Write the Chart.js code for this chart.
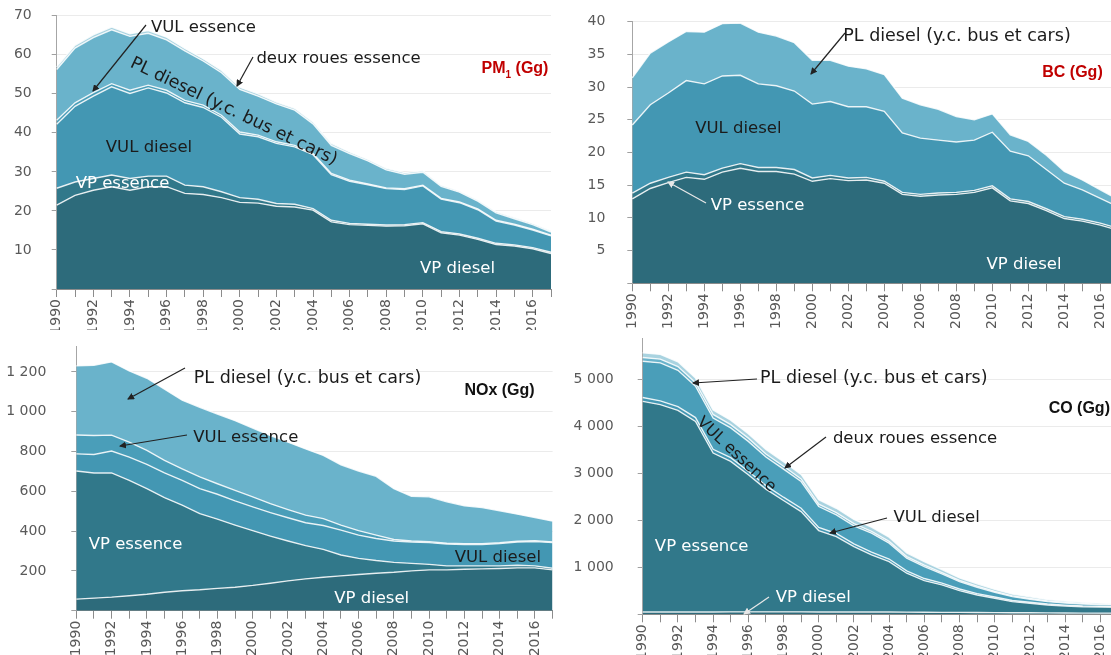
<!DOCTYPE html>
<html lang="fr">
<head>
<meta charset="utf-8">
<title>Émissions du transport routier</title>
<script src="https://cdn.jsdelivr.net/npm/chart.js@4.4.1/dist/chart.umd.min.js"></script>
<style>
    html, body { margin: 0; padding: 0; background: #fff; }
    body { position: relative; width: 1111px; height: 655px; overflow: hidden; font-family: 'DejaVu Sans', sans-serif; }
    canvas { position: absolute; }
    .lbl { position: absolute; white-space: nowrap; transform: translate(-50%, -50%); font-size: 16.5px; line-height: 1; color: #1b1b1b; }
    .pl { font-size: 17.5px; }
    .w { color: #fff; }
    .ttl { font-family: 'Liberation Sans', sans-serif; font-weight: bold; font-size: 16px; color: #111; }
    .red { color: #c00000; }
    svg { position: absolute; left: 0; top: 0; }
</style>
</head>
<body>
<canvas id="pm1" width="575" height="330" style="left:0;top:0"></canvas>
<canvas id="bc" width="570" height="330" style="left:560px;top:0"></canvas>
<canvas id="nox" width="575" height="325" style="left:0;top:330px"></canvas>
<canvas id="co" width="570" height="325" style="left:560px;top:330px"></canvas>
<svg width="1111" height="655">
    <defs>
        <marker id="ah" markerWidth="7" markerHeight="7" refX="6" refY="3.5" orient="auto" markerUnits="userSpaceOnUse">
            <path d="M0,0 L7,3.5 L0,7 z" fill="#222"/>
        </marker>
        <marker id="ahw" markerWidth="7" markerHeight="7" refX="6" refY="3.5" orient="auto" markerUnits="userSpaceOnUse">
            <path d="M0,0 L7,3.5 L0,7 z" fill="#e8e8e8"/>
        </marker>
    </defs>
    <g id="arrows"></g>
</svg>
<div id="labels"></div>

<script>
    'use strict';

    const years = ['1990', '1991', '1992', '1993', '1994', '1995', '1996', '1997', '1998', '1999',
        '2000', '2001', '2002', '2003', '2004', '2005', '2006', '2007', '2008', '2009',
        '2010', '2011', '2012', '2013', '2014', '2015', '2016', '2017'];

    // --- PM1 (Gg) ---
    const pm1Ticks = [0, 10, 20, 30, 40, 50, 60, 70];
    const pm1VpDiesel = [21.5, 24.0, 25.3, 26.2, 25.3, 26.2, 26.2, 24.5, 24.2, 23.4, 22.2, 22.0, 21.2, 21.0, 20.2, 17.2, 16.5, 16.3, 16.1, 16.2, 16.7, 14.4, 13.8, 12.7, 11.4, 11.0, 10.3, 9.1];
    const pm1VpEssence = [4.3, 3.4, 3.0, 3.0, 3.0, 2.7, 2.7, 2.1, 2.0, 1.5, 1.2, 1.0, 0.7, 0.7, 0.4, 0.4, 0.3, 0.3, 0.3, 0.3, 0.3, 0.3, 0.3, 0.3, 0.3, 0.3, 0.3, 0.3];
    const pm1VulDiesel = [16.4, 19.4, 21.1, 22.6, 21.8, 22.6, 21.3, 21.1, 20.3, 19.1, 16.3, 16.0, 15.4, 14.7, 13.8, 11.7, 10.8, 10.1, 9.3, 9.0, 9.4, 8.3, 8.0, 7.3, 5.7, 5.1, 4.5, 4.2];
    const pm1VulEssence = [1.0, 0.9, 0.9, 0.8, 0.8, 0.7, 0.7, 0.6, 0.6, 0.5, 0.5, 0.4, 0.4, 0.4, 0.3, 0.3, 0.3, 0.2, 0.2, 0.2, 0.2, 0.2, 0.2, 0.2, 0.2, 0.2, 0.2, 0.2];
    const pm1PlDiesel = [13.0, 14.0, 14.1, 13.8, 13.8, 13.3, 12.9, 12.7, 11.3, 10.9, 10.9, 10.0, 9.7, 9.0, 7.6, 7.2, 6.8, 5.9, 4.6, 3.7, 3.3, 3.1, 2.5, 2.0, 1.9, 1.4, 1.2, 0.8];
    const pm1DeuxRoues = [0.7, 0.7, 0.7, 0.7, 0.7, 0.7, 0.7, 0.6, 0.6, 0.6, 0.6, 0.6, 0.5, 0.5, 0.5, 0.5, 0.4, 0.4, 0.4, 0.4, 0.4, 0.3, 0.3, 0.3, 0.3, 0.3, 0.3, 0.3];

    // --- BC (Gg) ---
    const bcTicks = [0, 5, 10, 15, 20, 25, 30, 35, 40];
    const bcVpDiesel = [12.9, 14.5, 15.4, 16.2, 15.9, 17.0, 17.6, 17.1, 17.1, 16.7, 15.6, 16.0, 15.7, 15.8, 15.3, 13.6, 13.3, 13.5, 13.6, 13.9, 14.6, 12.6, 12.2, 11.1, 9.9, 9.5, 8.9, 8.1];
    const bcVpEssence = [0.9, 0.8, 0.8, 0.8, 0.7, 0.6, 0.7, 0.6, 0.6, 0.7, 0.5, 0.5, 0.4, 0.4, 0.3, 0.3, 0.3, 0.3, 0.3, 0.3, 0.3, 0.3, 0.3, 0.3, 0.3, 0.3, 0.3, 0.3];
    const bcVulDiesel = [10.4, 12.0, 12.9, 14.0, 13.9, 14.1, 13.5, 12.8, 12.5, 12.0, 11.3, 11.3, 10.9, 10.8, 10.7, 9.1, 8.6, 8.1, 7.7, 7.7, 8.2, 7.3, 7.0, 6.0, 5.1, 4.5, 3.8, 3.3];
    const bcPlDiesel = [7.2, 7.9, 7.8, 7.5, 7.9, 8.0, 8.0, 7.9, 7.6, 7.4, 6.7, 6.3, 6.2, 5.8, 5.6, 5.3, 5.1, 4.7, 3.9, 3.1, 2.8, 2.5, 2.2, 2.2, 1.8, 1.5, 1.3, 1.1];

    // --- NOx (Gg) ---
    const noxTicks = [0, 200, 400, 600, 800, 1000, 1200];
    const noxVpDiesel = [58, 63, 68, 75, 83, 93, 100, 105, 112, 118, 127, 138, 150, 160, 168, 175, 182, 188, 193, 200, 205, 205, 208, 210, 212, 215, 215, 205];
    const noxVpEssence = [644, 629, 624, 580, 530, 475, 430, 383, 348, 312, 275, 237, 200, 167, 140, 105, 81, 64, 50, 38, 28, 20, 17, 15, 13, 13, 10, 8];
    const noxVulDiesel = [86, 93, 110, 117, 122, 124, 125, 125, 125, 122, 120, 118, 117, 115, 120, 125, 117, 111, 107, 107, 109, 110, 108, 108, 113, 117, 123, 129];
    const noxVulEssence = [95, 95, 80, 75, 70, 63, 58, 59, 53, 53, 50, 45, 41, 38, 35, 25, 22, 17, 8, 5, 5, 4, 4, 4, 4, 4, 4, 4];
    const noxPlDiesel = [347, 353, 368, 358, 363, 358, 345, 350, 350, 350, 346, 342, 339, 333, 317, 303, 300, 295, 255, 225, 225, 208, 190, 181, 160, 136, 116, 104];

    // --- CO (Gg) ---
    const coTicks = [0, 1000, 2000, 3000, 4000, 5000];
    const coVpDiesel = [50, 50, 50, 50, 50, 52, 52, 52, 52, 52, 50, 50, 50, 48, 48, 46, 44, 42, 40, 38, 36, 34, 32, 30, 28, 26, 25, 24];
    const coVpEssence = [4483, 4412, 4291, 4056, 3382, 3201, 2918, 2613, 2370, 2135, 1732, 1605, 1391, 1216, 1074, 828, 672, 583, 463, 373, 305, 235, 203, 168, 149, 136, 131, 126];
    const coVulDiesel = [80, 80, 80, 80, 80, 80, 75, 75, 70, 70, 65, 65, 60, 60, 55, 50, 45, 40, 35, 30, 28, 25, 22, 20, 18, 16, 15, 14];
    const coVulEssence = [773, 809, 773, 667, 666, 633, 635, 607, 599, 570, 447, 397, 382, 403, 337, 270, 254, 194, 157, 135, 100, 81, 63, 51, 46, 42, 34, 31];
    const coPlDiesel = [80, 80, 80, 75, 75, 70, 70, 65, 60, 55, 50, 45, 45, 40, 38, 35, 30, 28, 25, 22, 20, 18, 16, 15, 14, 13, 12, 12];
    const coDeuxRoues = [100, 100, 100, 100, 95, 95, 95, 95, 95, 95, 95, 95, 90, 90, 90, 80, 75, 65, 55, 50, 45, 40, 35, 30, 28, 25, 20, 18];

    const COLORS = {
        vpDiesel: '#2d6b7b',
        vpEssence: '#31788a',
        vulDiesel: '#4397b3',
        vulEssence: '#4a9eb9',
        plDiesel: '#6ab3cb',
        deuxRoues: '#a9d3e0'
    };

    const tickFont = { family: "'DejaVu Sans', sans-serif", size: 14 };

    function fmtNumber(v) {
        if (v === 0) return '';
        return String(v).replace(/\B(?=(\d{3})+(?!\d))/g, ' ');
    }

    function stackedArea(canvasId, series, geo) {
        const ctx = document.getElementById(canvasId);
        return new Chart(ctx, {
            type: 'line',
            data: {
                labels: years,
                datasets: series.map((s, i) => ({
                    label: s.name,
                    data: s.values,
                    backgroundColor: COLORS[s.key],
                    borderColor: 'rgba(255,255,255,0.85)',
                    borderWidth: 1.4,
                    fill: i === 0 ? 'origin' : '-1',
                    pointRadius: 0,
                    tension: 0
                }))
            },
            options: {
                responsive: false,
                animation: false,
                events: [],
                layout: { padding: { top: geo.top, right: geo.right, left: 0, bottom: 0 } },
                plugins: { legend: { display: false }, tooltip: { enabled: false } },
                scales: {
                    x: {
                        offset: false,
                        grid: { drawOnChartArea: false, tickLength: 8, tickColor: '#8c8c8c' },
                        border: { color: '#8c8c8c' },
                        ticks: {
                            autoSkip: false, minRotation: 90, maxRotation: 90, padding: 2,
                            color: '#595959', font: tickFont,
                            callback: (v, i) => (i % 2 === 0 ? years[i] : '')
                        },
                        afterFit: scale => {
                            scale.height = geo.xh;
                            scale.paddingLeft = 0;
                            scale.paddingRight = 0;
                        }
                    },
                    y: {
                        stacked: true,
                        min: 0,
                        max: geo.max,
                        grid: { color: '#ebebeb', tickColor: '#a0a0a0', tickLength: 5 },
                        border: { color: '#a6a6a6' },
                        ticks: { padding: geo.pad, color: '#595959', font: tickFont, callback: fmtNumber },
                        afterBuildTicks: scale => { scale.ticks = geo.ticks.map(v => ({ value: v })); },
                        afterFit: scale => {
                            scale.width = geo.yw;
                            scale.paddingTop = 0;
                            scale.paddingBottom = 0;
                        }
                    }
                }
            }
        });
    }

    stackedArea('pm1', [
        { name: 'VP diesel', key: 'vpDiesel', values: pm1VpDiesel },
        { name: 'VP essence', key: 'vpEssence', values: pm1VpEssence },
        { name: 'VUL diesel', key: 'vulDiesel', values: pm1VulDiesel },
        { name: 'VUL essence', key: 'vulEssence', values: pm1VulEssence },
        { name: 'PL diesel (y.c. bus et cars)', key: 'plDiesel', values: pm1PlDiesel },
        { name: 'deux roues essence', key: 'deuxRoues', values: pm1DeuxRoues }
    ], { yw: 56.7, xh: 41, top: 15.7, right: 24, max: 70, ticks: pm1Ticks, pad: 20 });

    stackedArea('bc', [
        { name: 'VP diesel', key: 'vpDiesel', values: bcVpDiesel },
        { name: 'VP essence', key: 'vpEssence', values: bcVpEssence },
        { name: 'VUL diesel', key: 'vulDiesel', values: bcVulDiesel },
        { name: 'PL diesel (y.c. bus et cars)', key: 'plDiesel', values: bcPlDiesel }
    ], { yw: 72.3, xh: 46.7, top: 21.7, right: 11.7, max: 40, ticks: bcTicks, pad: 22 });

    stackedArea('nox', [
        { name: 'VP diesel', key: 'vpDiesel', values: noxVpDiesel },
        { name: 'VP essence', key: 'vpEssence', values: noxVpEssence },
        { name: 'VUL diesel', key: 'vulDiesel', values: noxVulDiesel },
        { name: 'VUL essence', key: 'vulEssence', values: noxVulEssence },
        { name: 'PL diesel (y.c. bus et cars)', key: 'plDiesel', values: noxPlDiesel }
    ], { yw: 76.3, xh: 44.3, top: 16, right: 22.4, max: 1330, ticks: noxTicks, pad: 25 });

    stackedArea('co', [
        { name: 'VP diesel', key: 'vpDiesel', values: coVpDiesel },
        { name: 'VP essence', key: 'vpEssence', values: coVpEssence },
        { name: 'VUL diesel', key: 'vulDiesel', values: coVulDiesel },
        { name: 'VUL essence', key: 'vulEssence', values: coVulEssence },
        { name: 'PL diesel (y.c. bus et cars)', key: 'plDiesel', values: coPlDiesel },
        { name: 'deux roues essence', key: 'deuxRoues', values: coDeuxRoues }
    ], { yw: 82.7, xh: 40.7, top: 8.5, right: 12.1, max: 5870, ticks: coTicks, pad: 24 });

    // annotation texts (page pixels, centre of the text)
    const notes = [
        { t: 'VUL essence', x: 203.5, y: 26.7 },
        { t: 'deux roues essence', x: 338.5, y: 58.3 },
        { t: 'PL diesel (y.c. bus et cars)', x: 234, y: 111, rot: 25.7, cls: 'pl' },
        { t: 'VUL diesel', x: 149, y: 146.7 },
        { t: 'VP essence', x: 122.5, y: 183.3, cls: 'w' },
        { t: 'VP diesel', x: 457.5, y: 268.3, cls: 'w' },
        { h: 'PM<sub style="font-size:10px">1</sub> (Gg)', x: 515, y: 70, cls: 'ttl red' },

        { t: 'PL diesel (y.c. bus et cars)', x: 957, y: 36, cls: 'pl' },
        { t: 'BC (Gg)', x: 1072.5, y: 72.3, cls: 'ttl red' },
        { t: 'VUL diesel', x: 738.3, y: 128.3 },
        { t: 'VP essence', x: 757.5, y: 205, cls: 'w' },
        { t: 'VP diesel', x: 1024, y: 264, cls: 'w' },

        { t: 'PL diesel (y.c. bus et cars)', x: 307.5, y: 378.3, cls: 'pl' },
        { t: 'VUL essence', x: 245.8, y: 436.7 },
        { t: 'NOx (Gg)', x: 499.5, y: 390, cls: 'ttl' },
        { t: 'VP essence', x: 135.5, y: 544, cls: 'w' },
        { t: 'VUL diesel', x: 497.8, y: 557.3 },
        { t: 'VP diesel', x: 371.7, y: 598.3, cls: 'w' },

        { t: 'PL diesel (y.c. bus et cars)', x: 873.8, y: 378.3, cls: 'pl' },
        { t: 'CO (Gg)', x: 1079.3, y: 408.3, cls: 'ttl' },
        { t: 'deux roues essence', x: 915, y: 437.7 },
        { t: 'VUL essence', x: 737, y: 454, rot: 43, size: 16 },
        { t: 'VUL diesel', x: 936.7, y: 516.7 },
        { t: 'VP essence', x: 701.7, y: 546, cls: 'w' },
        { t: 'VP diesel', x: 813.3, y: 596.7, cls: 'w' }
    ];

    const arrows = [
        [146, 25, 93, 91], [253, 57, 237, 86],
        [845, 33, 811, 74], [706, 203, 668, 182, 'w'],
        [185, 368, 128, 399], [187, 435, 120, 446],
        [757, 379, 693, 383], [826, 437, 785, 468], [887, 518, 830, 533], [769, 597, 744, 614, 'w']
    ];

    const labelBox = document.getElementById('labels');
    notes.forEach(n => {
        const d = document.createElement('div');
        d.className = 'lbl ' + (n.cls || '');
        if (n.h) d.innerHTML = n.h; else d.textContent = n.t;
        d.style.left = n.x + 'px';
        d.style.top = n.y + 'px';
        if (n.size) d.style.fontSize = n.size + 'px';
        if (n.rot) d.style.transform = `translate(-50%, -50%) rotate(${n.rot}deg)`;
        labelBox.appendChild(d);
    });

    const arrowGroup = document.getElementById('arrows');
    arrows.forEach(([x1, y1, x2, y2, kind]) => {
        const l = document.createElementNS('http://www.w3.org/2000/svg', 'line');
        l.setAttribute('x1', x1); l.setAttribute('y1', y1);
        l.setAttribute('x2', x2); l.setAttribute('y2', y2);
        l.setAttribute('stroke', kind === 'w' ? '#e8e8e8' : '#222');
        l.setAttribute('stroke-width', '1.2');
        l.setAttribute('marker-end', kind === 'w' ? 'url(#ahw)' : 'url(#ah)');
        arrowGroup.appendChild(l);
    });
</script>
</body>
</html>
